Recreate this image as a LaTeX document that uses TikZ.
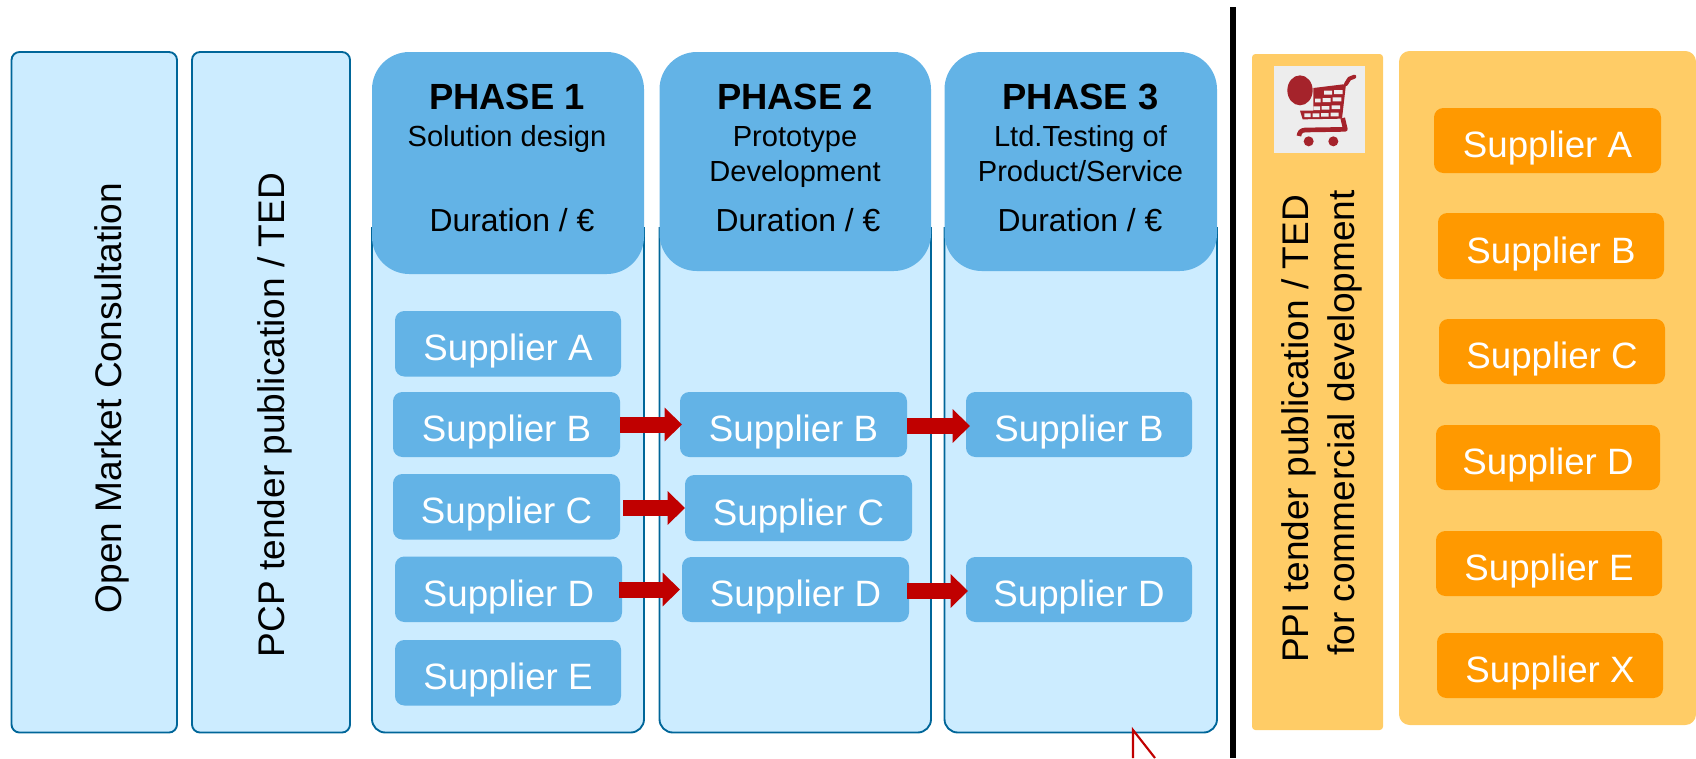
\documentclass[tikz,border=0pt]{standalone}
\usepackage{fontspec}
\setmainfont{Liberation Sans}
\usetikzlibrary{arrows.meta,calc}
\definecolor{panelblue}{HTML}{CCECFF}
\definecolor{edgeblue}{HTML}{006699}
\definecolor{midblue}{HTML}{63B3E6}
\definecolor{lightorange}{HTML}{FFCC66}
\definecolor{deeporange}{HTML}{FF9900}
\definecolor{arrowred}{HTML}{C00000}
\definecolor{cartred}{HTML}{A5232B}
\definecolor{cartbg}{HTML}{EDEDED}
\newcommand{\boxat}[7][]{%
  \path let \p1=(#3,#4), \p2=(#5,#6) in
    node[#1, minimum width=\x2-\x1, minimum height=\y1-\y2] (#2) at ($(#3,#4)!.5!(#5,#6)$) {#7};}
\tikzset{
  x=0.75pt,y=-0.75pt,
  every node/.style={inner sep=0pt,outer sep=0pt},
  column/.style={rectangle,rounded corners=6pt,draw=edgeblue,line width=1.4pt,fill=panelblue},
  phasepanel/.style={column,rounded corners=10pt},
  header/.style={rectangle,rounded corners=28pt,fill=midblue},
  bluesup/.style={rectangle,rounded corners=7pt,fill=midblue,text=white,font=\fontsize{27.5pt}{30pt}\selectfont,text height=31.3pt,text depth=5.7pt},
  orangesup/.style={bluesup,fill=deeporange},
  phasetitle/.style={anchor=base,font=\fontsize{27.3pt}{30pt}\selectfont\bfseries},
  subtitle/.style={anchor=base,font=\fontsize{21.8pt}{24pt}\selectfont},
  duration/.style={anchor=base,font=\fontsize{23.9pt}{26pt}\selectfont},
  sidetext/.style={anchor=base,rotate=90,font=\fontsize{27.8pt}{30pt}\selectfont},
  redarrow/.style={arrowred,line width=12pt,-{Triangle[length=13pt,width=24.5pt]}},
}
\begin{document}
\begin{tikzpicture}
\useasboundingbox (0,0) rectangle (1696,758);
% left columns
\boxat[column]{omc}{11.5}{52}{177}{732.5}{}
\boxat[column]{pcp}{192}{52}{350}{732.5}{}
\node[sidetext] (omct) at (121,398) {Open Market Consultation};
\node[sidetext] (pcpt) at (284,415) {PCP tender publication / TED};
% phase panels: their top edge is cut off behind the headers
\begin{scope}
\clip (0,227) rectangle (1696,758);
\boxat[phasepanel]{p1}{372}{180}{644}{732.5}{}
\boxat[phasepanel]{p2}{659.5}{180}{931}{732.5}{}
\boxat[phasepanel]{p3}{944.5}{180}{1217}{732.5}{}
\end{scope}
\boxat[header]{h1}{372}{52}{644}{274}{}
\boxat[header]{h2}{659.5}{52}{931}{271}{}
\boxat[header]{h3}{944.5}{52}{1217}{271}{}
\node[phasetitle] (t1) at (507,109) {PHASE 1};
\node[phasetitle] (t2) at (795,109) {PHASE 2};
\node[phasetitle] (t3) at (1080.5,109) {PHASE 3};
\node[subtitle] (s1) at (507,146) {Solution design};
\node[subtitle] (s2a) at (795,146) {Prototype};
\node[subtitle] (s2b) at (795,181) {Development};
\node[subtitle] (s3a) at (1080.5,146) {Ltd.Testing of};
\node[subtitle] (s3b) at (1080.5,181) {Product/Service};
\node[duration] (d1) at (512,231) {Duration / €};
\node[duration] (d2) at (798,231) {Duration / €};
\node[duration] (d3) at (1080,231) {Duration / €};
% blue suppliers
\boxat[bluesup]{a1}{395}{311}{621}{376.5}{Supplier A}
\boxat[bluesup]{b1}{393}{392}{620}{457}{Supplier B}
\boxat[bluesup]{c1}{393}{474}{620}{539.5}{Supplier C}
\boxat[bluesup]{d1x}{395}{556.5}{622}{622}{Supplier D}
\boxat[bluesup]{e1}{395}{640}{621}{705.5}{Supplier E}
\boxat[bluesup]{b2}{680}{392}{907}{457}{Supplier B}
\boxat[bluesup]{c2}{685}{475}{912}{541}{Supplier C}
\boxat[bluesup]{d2x}{682}{557}{909}{622}{Supplier D}
\boxat[bluesup]{b3}{966}{392}{1192}{457}{Supplier B}
\boxat[bluesup]{d3x}{966}{557}{1192}{622}{Supplier D}
% arrows
\draw[redarrow] (b1.east |- b2.west) -- ([xshift=1.5pt]b2.west);
\draw[redarrow] ([xshift=2.25pt]c1.east |- c2.west) -- (c2.west);
\draw[redarrow] ([xshift=-2.25pt]d1x.east |- d2x.west) -- ([xshift=-1.5pt]d2x.west);
\draw[redarrow] ([yshift=-1.1pt]b2.east |- b3.west) -- ([xshift=3pt,yshift=-1.1pt]b3.west);
\draw[redarrow] ([xshift=-1.5pt,yshift=-1.1pt]d2x.east |- d3x.west) -- ([xshift=1.5pt,yshift=-1.1pt]d3x.west);
% stray red outline
\coordinate (apex) at (1133,730);
\coordinate (low) at (1133,758);
\coordinate (lowr) at (1155,758);
\draw[arrowred,line width=1.6pt] (low) -- (apex) -- (lowr);
% divider
\coordinate (divtop) at (1233,7);
\coordinate (divbot) at (1233,758);
\draw[black,line width=4.3pt] (divtop) -- (divbot);
% right side
\boxat[column,draw=none,fill=lightorange,rounded corners=2.5pt]{ppi}{1252}{54}{1383}{730}{}
\boxat[column,draw=none,fill=lightorange,rounded corners=8pt]{pan}{1399}{51}{1696}{725}{}
\node[sidetext] (ppi1) at (1308,429) {PPI tender publication / TED};
\node[sidetext] (ppi2) at (1354,423) {for commercial development};
\boxat[orangesup]{oa}{1434}{108}{1661}{173}{Supplier A}
\boxat[orangesup]{ob}{1438}{213}{1664}{279}{Supplier B}
\boxat[orangesup]{oc}{1439}{319}{1665}{384}{Supplier C}
\boxat[orangesup]{od}{1436}{425}{1660}{490}{Supplier D}
\boxat[orangesup]{oe}{1436}{531}{1662}{596}{Supplier E}
\boxat[orangesup]{ox}{1437}{633}{1663}{698}{Supplier X}
% cart icon
\fill[cartbg] (1274,66) rectangle (1365,153);
\begin{scope}[shift={(1270,62)},x=0.25pt,y=-0.25pt]
\fill[cartred] (130,78) -- (228,66) -- (216,170) -- (98,172) -- (90,146) -- (130,146) -- cycle;
\fill[cartbg]
  (162,86) rectangle (186,98) (192,84) rectangle (218,96)
  (135,110) rectangle (152,121) (158,108) rectangle (182,120) (188,106) rectangle (214,118)
  (130,133) rectangle (150,144) (155,132) rectangle (178,143) (185,130) rectangle (210,141)
  (103,154) rectangle (122,165) (128,154) rectangle (148,165) (153,153) rectangle (176,164) (182,152) rectangle (206,163);
\draw[cartred,line width=3pt,line cap=round,line join=round] (253,44) -- (238,50) -- (228,66);
\draw[cartred,line width=3.5pt,line join=round] (218,168) -- (226,202) -- (105,204) .. controls (92,205) and (88,212) .. (87,222);
\fill[cartred] (90,85) ellipse [x radius=38,y radius=45];
\fill[cartred] (116,238) circle (15);
\fill[cartred] (190,238) circle (15);
\end{scope}
\end{tikzpicture}
\end{document}
